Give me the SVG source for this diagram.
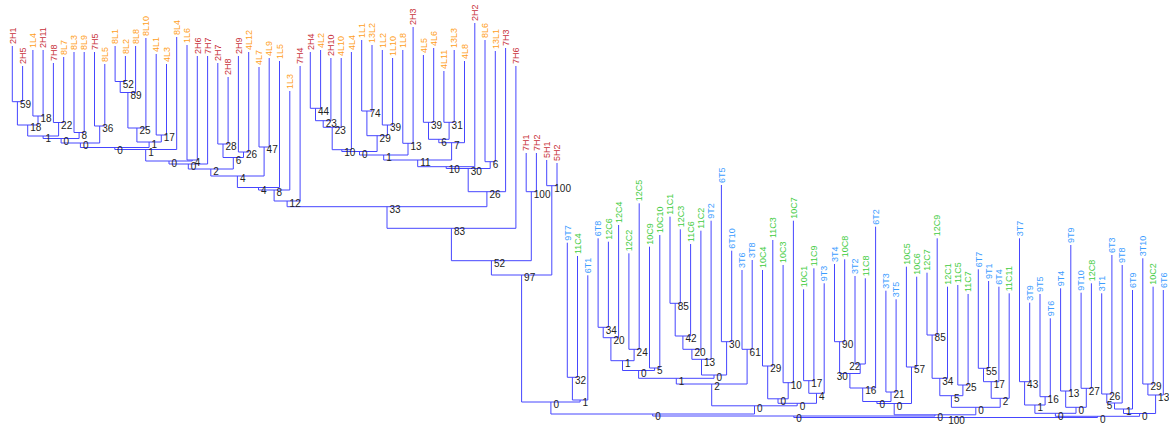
<svg xmlns="http://www.w3.org/2000/svg" width="1169" height="424" viewBox="0 0 1169 424">
<style>
.e{fill:none;stroke:#4646ff;stroke-width:1}
.lf{font-family:"Liberation Sans",Arial,sans-serif;font-size:9px}
.h{fill:#c8313a}.l{fill:#ffa01c}.t{fill:#3b9cff}.c{fill:#3fcc3f}
.bs{font-family:"Liberation Sans",Arial,sans-serif;font-size:10px;fill:#222}
</style>
<rect width="1169" height="424" fill="#fff"/>
<g id="connectors">
<path class="e" d="M12.3 46V101.7H22.6V66"/>
<path class="e" d="M32.9 50V116H43.1V50"/>
<path class="e" d="M17.4 101.7V125H38V116"/>
<path class="e" d="M53.4 63V122.5H63.7V57"/>
<path class="e" d="M27.7 125V136H58.6V122.5"/>
<path class="e" d="M74 52V132.5H84.2V52"/>
<path class="e" d="M94.5 52V126H104.8V64"/>
<path class="e" d="M43.1 136V138.5H79.1V132.5"/>
<path class="e" d="M61.1 138.5V143H99.7V126"/>
<path class="e" d="M115.1 46V81.5H125.4V56"/>
<path class="e" d="M120.2 81.5V92.5H135.6V46"/>
<path class="e" d="M127.9 92.5V128H145.9V38"/>
<path class="e" d="M156.2 54V135H166.5V64"/>
<path class="e" d="M136.9 128V142H161.3V135"/>
<path class="e" d="M80.4 143V147.5H149.1V142"/>
<path class="e" d="M114.8 147.5V149.5H176.7V37"/>
<path class="e" d="M187 45V160H197.3V56"/>
<path class="e" d="M145.7 149.5V161H192.2V160"/>
<path class="e" d="M169 161V164H207.6V56"/>
<path class="e" d="M217.8 63V144H228.1V77"/>
<path class="e" d="M238.4 56V152H248.7V52"/>
<path class="e" d="M223 144V157.5H243.5V152"/>
<path class="e" d="M188.3 164V169H233.3V157.5"/>
<path class="e" d="M259 67V147H269.2V58"/>
<path class="e" d="M210.8 169V176H264.1V147"/>
<path class="e" d="M237.4 176V187.5H279.5V61"/>
<path class="e" d="M258.5 187.5V190H289.8V91"/>
<path class="e" d="M274.1 190V201H300.1V66"/>
<path class="e" d="M310.3 52V108.3H320.6V50"/>
<path class="e" d="M315.5 108.3V120.7H330.9V58"/>
<path class="e" d="M323.2 120.7V127.3H341.2V58"/>
<path class="e" d="M332.2 127.3V149.7H351.4V52"/>
<path class="e" d="M361.7 40V111H372V45"/>
<path class="e" d="M382.3 50V125H392.6V58"/>
<path class="e" d="M366.9 111V135.7H387.4V125"/>
<path class="e" d="M341.8 149.7V151.5H377.1V135.7"/>
<path class="e" d="M402.8 50V143.3H413.1V27"/>
<path class="e" d="M359.5 151.5V155H408V143.3"/>
<path class="e" d="M423.4 55V122.3H433.7V48"/>
<path class="e" d="M443.9 71V122.3H454.2V50"/>
<path class="e" d="M428.5 122.3V139.3H449.1V122.3"/>
<path class="e" d="M438.8 139.3V142.7H464.5V61"/>
<path class="e" d="M383.7 155V160H451.6V142.7"/>
<path class="e" d="M417.7 160V166.7H474.8V23"/>
<path class="e" d="M485 40V161.7H495.3V51"/>
<path class="e" d="M446.2 166.7V168.5H490.2V161.7"/>
<path class="e" d="M468.2 168.5V191.7H505.6V48"/>
<path class="e" d="M287.1 201V206.7H486.9V191.7"/>
<path class="e" d="M387 206.7V228.3H515.9V66"/>
<path class="e" d="M526.2 153V191.7H536.4V153"/>
<path class="e" d="M546.7 160V185.7H557V163"/>
<path class="e" d="M451.4 228.3V260.7H531.3V191.7"/>
<path class="e" d="M491.4 260.7V275H551.8V185.7"/>
<path class="e" d="M567.3 242.7V377.3H577.5V256"/>
<path class="e" d="M572.4 377.3V400H587.8V275.3"/>
<path class="e" d="M521.6 275V402H580.1V400"/>
<path class="e" d="M598.1 238.3V327.3H608.4V241.7"/>
<path class="e" d="M603.2 327.3V337.7H618.6V225"/>
<path class="e" d="M628.9 253.3V349.3H639.2V203.3"/>
<path class="e" d="M610.9 337.7V360.7H634.1V349.3"/>
<path class="e" d="M649.5 246.7V368H659.8V235"/>
<path class="e" d="M622.5 360.7V370.5H654.6V368"/>
<path class="e" d="M670 216.7V303.3H680.3V229.3"/>
<path class="e" d="M675.2 303.3V336H690.6V244"/>
<path class="e" d="M682.9 336V349.3H700.9V230.7"/>
<path class="e" d="M691.9 349.3V359.3H711.1V220.7"/>
<path class="e" d="M721.4 185V341.7H731.7V250.7"/>
<path class="e" d="M701.5 359.3V375H726.6V341.7"/>
<path class="e" d="M638.6 370.5V378.3H714V375"/>
<path class="e" d="M742 270V349.3H752.2V260"/>
<path class="e" d="M676.3 378.3V384H747.1V349.3"/>
<path class="e" d="M762.5 270V366H772.8V240"/>
<path class="e" d="M783.1 265V382.7H793.4V220.7"/>
<path class="e" d="M767.7 366V398.8H788.2V382.7"/>
<path class="e" d="M803.6 289.3V380.7H813.9V268.3"/>
<path class="e" d="M808.8 380.7V393.3H824.2V283.3"/>
<path class="e" d="M778 398.8V403.3H816.5V393.3"/>
<path class="e" d="M711.7 384V405.8H797.2V403.3"/>
<path class="e" d="M550.9 402V414H754.5V405.8"/>
<path class="e" d="M834.5 264V341.7H844.7V259.3"/>
<path class="e" d="M855 276V364H865.3V278.3"/>
<path class="e" d="M839.6 341.7V373.5H860.2V364"/>
<path class="e" d="M849.9 373.5V388H875.6V226.7"/>
<path class="e" d="M885.9 290.7V392H896.1V299.3"/>
<path class="e" d="M862.7 388V401.5H891V392"/>
<path class="e" d="M906.4 266.7V367H916.7V276.7"/>
<path class="e" d="M876.9 401.5V403.5H911.5V367"/>
<path class="e" d="M927 272.7V335H937.2V238.3"/>
<path class="e" d="M932.1 335V378.3H947.5V286.7"/>
<path class="e" d="M957.8 285V385H968.1V294"/>
<path class="e" d="M939.8 378.3V395.7H962.9V385"/>
<path class="e" d="M978.3 269.3V368.3H988.6V281"/>
<path class="e" d="M983.5 368.3V381.7H998.9V286.7"/>
<path class="e" d="M991.2 381.7V398.3H1009.2V293.3"/>
<path class="e" d="M951.4 395.7V407.3H1000.2V398.3"/>
<path class="e" d="M894.2 403.5V414.8H975.8V407.3"/>
<path class="e" d="M652.7 414V416H935V414.8"/>
<path class="e" d="M1019.5 238.3V381.7H1029.7V302.7"/>
<path class="e" d="M1040 294V396.7H1050.3V318.3"/>
<path class="e" d="M1024.6 381.7V405H1045.1V396.7"/>
<path class="e" d="M1060.6 288.3V391H1070.8V245"/>
<path class="e" d="M1081.1 292.7V388.3H1091.4V283.3"/>
<path class="e" d="M1065.7 391V407.3H1086.3V388.3"/>
<path class="e" d="M1034.9 405V413.3H1076V407.3"/>
<path class="e" d="M1101.7 293.3V394H1111.9V255"/>
<path class="e" d="M1106.8 394V403H1122.2V265"/>
<path class="e" d="M1114.5 403V409H1132.5V290"/>
<path class="e" d="M1142.8 258.3V384H1153.1V286.7"/>
<path class="e" d="M1147.9 384V395H1163.3V290"/>
<path class="e" d="M1123.5 409V413.5H1155.6V395"/>
<path class="e" d="M1055.4 413.3V416.3H1139.6V413.5"/>
<path class="e" d="M793.8 416V417.5H1097.5V416.3"/>
</g>
<g id="leaves">
<g id="leaf-2H1"><text class="lf h" transform="translate(15.5,44) rotate(-90)">2H1</text></g>
<g id="leaf-2H5"><text class="lf h" transform="translate(25.8,64) rotate(-90)">2H5</text></g>
<g id="leaf-1L4"><text class="lf l" transform="translate(36.1,48) rotate(-90)">1L4</text></g>
<g id="leaf-2H11"><text class="lf h" transform="translate(46.3,48) rotate(-90)">2H11</text></g>
<g id="leaf-7H8"><text class="lf h" transform="translate(56.6,61) rotate(-90)">7H8</text></g>
<g id="leaf-8L7"><text class="lf l" transform="translate(66.9,55) rotate(-90)">8L7</text></g>
<g id="leaf-8L3"><text class="lf l" transform="translate(77.2,50) rotate(-90)">8L3</text></g>
<g id="leaf-8L9"><text class="lf l" transform="translate(87.4,50) rotate(-90)">8L9</text></g>
<g id="leaf-7H5"><text class="lf h" transform="translate(97.7,50) rotate(-90)">7H5</text></g>
<g id="leaf-8L5"><text class="lf l" transform="translate(108,62) rotate(-90)">8L5</text></g>
<g id="leaf-8L1"><text class="lf l" transform="translate(118.3,44) rotate(-90)">8L1</text></g>
<g id="leaf-8L2"><text class="lf l" transform="translate(128.6,54) rotate(-90)">8L2</text></g>
<g id="leaf-8L8"><text class="lf l" transform="translate(138.8,44) rotate(-90)">8L8</text></g>
<g id="leaf-8L10"><text class="lf l" transform="translate(149.1,36) rotate(-90)">8L10</text></g>
<g id="leaf-4L1"><text class="lf l" transform="translate(159.4,52) rotate(-90)">4L1</text></g>
<g id="leaf-4L3"><text class="lf l" transform="translate(169.7,62) rotate(-90)">4L3</text></g>
<g id="leaf-8L4"><text class="lf l" transform="translate(179.9,35) rotate(-90)">8L4</text></g>
<g id="leaf-1L6"><text class="lf l" transform="translate(190.2,43) rotate(-90)">1L6</text></g>
<g id="leaf-2H6"><text class="lf h" transform="translate(200.5,54) rotate(-90)">2H6</text></g>
<g id="leaf-7H7"><text class="lf h" transform="translate(210.8,54) rotate(-90)">7H7</text></g>
<g id="leaf-2H7"><text class="lf h" transform="translate(221,61) rotate(-90)">2H7</text></g>
<g id="leaf-2H8"><text class="lf h" transform="translate(231.3,75) rotate(-90)">2H8</text></g>
<g id="leaf-2H9"><text class="lf h" transform="translate(241.6,54) rotate(-90)">2H9</text></g>
<g id="leaf-4L12"><text class="lf l" transform="translate(251.9,50) rotate(-90)">4L12</text></g>
<g id="leaf-4L7"><text class="lf l" transform="translate(262.2,65) rotate(-90)">4L7</text></g>
<g id="leaf-4L9"><text class="lf l" transform="translate(272.4,56) rotate(-90)">4L9</text></g>
<g id="leaf-1L5"><text class="lf l" transform="translate(282.7,59) rotate(-90)">1L5</text></g>
<g id="leaf-1L3"><text class="lf l" transform="translate(293,89) rotate(-90)">1L3</text></g>
<g id="leaf-7H4"><text class="lf h" transform="translate(303.3,64) rotate(-90)">7H4</text></g>
<g id="leaf-2H4"><text class="lf h" transform="translate(313.5,50) rotate(-90)">2H4</text></g>
<g id="leaf-4L2"><text class="lf l" transform="translate(323.8,48) rotate(-90)">4L2</text></g>
<g id="leaf-2H10"><text class="lf h" transform="translate(334.1,56) rotate(-90)">2H10</text></g>
<g id="leaf-4L10"><text class="lf l" transform="translate(344.4,56) rotate(-90)">4L10</text></g>
<g id="leaf-4L4"><text class="lf l" transform="translate(354.6,50) rotate(-90)">4L4</text></g>
<g id="leaf-1L1"><text class="lf l" transform="translate(364.9,38) rotate(-90)">1L1</text></g>
<g id="leaf-13L2"><text class="lf l" transform="translate(375.2,43) rotate(-90)">13L2</text></g>
<g id="leaf-1L2"><text class="lf l" transform="translate(385.5,48) rotate(-90)">1L2</text></g>
<g id="leaf-1L10"><text class="lf l" transform="translate(395.8,56) rotate(-90)">1L10</text></g>
<g id="leaf-1L8"><text class="lf l" transform="translate(406,48) rotate(-90)">1L8</text></g>
<g id="leaf-2H3"><text class="lf h" transform="translate(416.3,25) rotate(-90)">2H3</text></g>
<g id="leaf-4L5"><text class="lf l" transform="translate(426.6,53) rotate(-90)">4L5</text></g>
<g id="leaf-4L6"><text class="lf l" transform="translate(436.9,46) rotate(-90)">4L6</text></g>
<g id="leaf-4L11"><text class="lf l" transform="translate(447.1,69) rotate(-90)">4L11</text></g>
<g id="leaf-13L3"><text class="lf l" transform="translate(457.4,48) rotate(-90)">13L3</text></g>
<g id="leaf-4L8"><text class="lf l" transform="translate(467.7,59) rotate(-90)">4L8</text></g>
<g id="leaf-2H2"><text class="lf h" transform="translate(478,21) rotate(-90)">2H2</text></g>
<g id="leaf-8L6"><text class="lf l" transform="translate(488.2,38) rotate(-90)">8L6</text></g>
<g id="leaf-13L1"><text class="lf l" transform="translate(498.5,49) rotate(-90)">13L1</text></g>
<g id="leaf-7H3"><text class="lf h" transform="translate(508.8,46) rotate(-90)">7H3</text></g>
<g id="leaf-7H6"><text class="lf h" transform="translate(519.1,64) rotate(-90)">7H6</text></g>
<g id="leaf-7H1"><text class="lf h" transform="translate(529.4,151) rotate(-90)">7H1</text></g>
<g id="leaf-7H2"><text class="lf h" transform="translate(539.6,151) rotate(-90)">7H2</text></g>
<g id="leaf-5H1"><text class="lf h" transform="translate(549.9,158) rotate(-90)">5H1</text></g>
<g id="leaf-5H2"><text class="lf h" transform="translate(560.2,161) rotate(-90)">5H2</text></g>
<g id="leaf-9T7"><text class="lf t" transform="translate(570.5,240.7) rotate(-90)">9T7</text></g>
<g id="leaf-11C4"><text class="lf c" transform="translate(580.7,254) rotate(-90)">11C4</text></g>
<g id="leaf-6T1"><text class="lf t" transform="translate(591,273.3) rotate(-90)">6T1</text></g>
<g id="leaf-6T8"><text class="lf t" transform="translate(601.3,236.3) rotate(-90)">6T8</text></g>
<g id="leaf-12C6"><text class="lf c" transform="translate(611.6,239.7) rotate(-90)">12C6</text></g>
<g id="leaf-12C4"><text class="lf c" transform="translate(621.8,223) rotate(-90)">12C4</text></g>
<g id="leaf-12C2"><text class="lf c" transform="translate(632.1,251.3) rotate(-90)">12C2</text></g>
<g id="leaf-12C5"><text class="lf c" transform="translate(642.4,201.3) rotate(-90)">12C5</text></g>
<g id="leaf-10C9"><text class="lf c" transform="translate(652.7,244.7) rotate(-90)">10C9</text></g>
<g id="leaf-10C10"><text class="lf c" transform="translate(663,233) rotate(-90)">10C10</text></g>
<g id="leaf-11C1"><text class="lf c" transform="translate(673.2,214.7) rotate(-90)">11C1</text></g>
<g id="leaf-12C3"><text class="lf c" transform="translate(683.5,227.3) rotate(-90)">12C3</text></g>
<g id="leaf-11C6"><text class="lf c" transform="translate(693.8,242) rotate(-90)">11C6</text></g>
<g id="leaf-11C2"><text class="lf c" transform="translate(704.1,228.7) rotate(-90)">11C2</text></g>
<g id="leaf-9T2"><text class="lf t" transform="translate(714.3,218.7) rotate(-90)">9T2</text></g>
<g id="leaf-6T5"><text class="lf t" transform="translate(724.6,183) rotate(-90)">6T5</text></g>
<g id="leaf-6T10"><text class="lf t" transform="translate(734.9,248.7) rotate(-90)">6T10</text></g>
<g id="leaf-3T6"><text class="lf t" transform="translate(745.2,268) rotate(-90)">3T6</text></g>
<g id="leaf-3T8"><text class="lf t" transform="translate(755.4,258) rotate(-90)">3T8</text></g>
<g id="leaf-10C4"><text class="lf c" transform="translate(765.7,268) rotate(-90)">10C4</text></g>
<g id="leaf-11C3"><text class="lf c" transform="translate(776,238) rotate(-90)">11C3</text></g>
<g id="leaf-10C3"><text class="lf c" transform="translate(786.3,263) rotate(-90)">10C3</text></g>
<g id="leaf-10C7"><text class="lf c" transform="translate(796.6,218.7) rotate(-90)">10C7</text></g>
<g id="leaf-10C1"><text class="lf c" transform="translate(806.8,287.3) rotate(-90)">10C1</text></g>
<g id="leaf-11C9"><text class="lf c" transform="translate(817.1,266.3) rotate(-90)">11C9</text></g>
<g id="leaf-9T3"><text class="lf t" transform="translate(827.4,281.3) rotate(-90)">9T3</text></g>
<g id="leaf-3T4"><text class="lf t" transform="translate(837.7,262) rotate(-90)">3T4</text></g>
<g id="leaf-10C8"><text class="lf c" transform="translate(847.9,257.3) rotate(-90)">10C8</text></g>
<g id="leaf-3T2"><text class="lf t" transform="translate(858.2,274) rotate(-90)">3T2</text></g>
<g id="leaf-11C8"><text class="lf c" transform="translate(868.5,276.3) rotate(-90)">11C8</text></g>
<g id="leaf-6T2"><text class="lf t" transform="translate(878.8,224.7) rotate(-90)">6T2</text></g>
<g id="leaf-3T3"><text class="lf t" transform="translate(889.1,288.7) rotate(-90)">3T3</text></g>
<g id="leaf-3T5"><text class="lf t" transform="translate(899.3,297.3) rotate(-90)">3T5</text></g>
<g id="leaf-10C5"><text class="lf c" transform="translate(909.6,264.7) rotate(-90)">10C5</text></g>
<g id="leaf-10C6"><text class="lf c" transform="translate(919.9,274.7) rotate(-90)">10C6</text></g>
<g id="leaf-12C7"><text class="lf c" transform="translate(930.2,270.7) rotate(-90)">12C7</text></g>
<g id="leaf-12C9"><text class="lf c" transform="translate(940.4,236.3) rotate(-90)">12C9</text></g>
<g id="leaf-12C1"><text class="lf c" transform="translate(950.7,284.7) rotate(-90)">12C1</text></g>
<g id="leaf-11C5"><text class="lf c" transform="translate(961,283) rotate(-90)">11C5</text></g>
<g id="leaf-11C7"><text class="lf c" transform="translate(971.3,292) rotate(-90)">11C7</text></g>
<g id="leaf-6T7"><text class="lf t" transform="translate(981.5,267.3) rotate(-90)">6T7</text></g>
<g id="leaf-9T1"><text class="lf t" transform="translate(991.8,279) rotate(-90)">9T1</text></g>
<g id="leaf-6T4"><text class="lf t" transform="translate(1002.1,284.7) rotate(-90)">6T4</text></g>
<g id="leaf-11C11"><text class="lf c" transform="translate(1012.4,291.3) rotate(-90)">11C11</text></g>
<g id="leaf-3T7"><text class="lf t" transform="translate(1022.7,236.3) rotate(-90)">3T7</text></g>
<g id="leaf-3T9"><text class="lf t" transform="translate(1032.9,300.7) rotate(-90)">3T9</text></g>
<g id="leaf-9T5"><text class="lf t" transform="translate(1043.2,292) rotate(-90)">9T5</text></g>
<g id="leaf-9T6"><text class="lf t" transform="translate(1053.5,316.3) rotate(-90)">9T6</text></g>
<g id="leaf-9T4"><text class="lf t" transform="translate(1063.8,286.3) rotate(-90)">9T4</text></g>
<g id="leaf-9T9"><text class="lf t" transform="translate(1074,243) rotate(-90)">9T9</text></g>
<g id="leaf-9T10"><text class="lf t" transform="translate(1084.3,290.7) rotate(-90)">9T10</text></g>
<g id="leaf-12C8"><text class="lf c" transform="translate(1094.6,281.3) rotate(-90)">12C8</text></g>
<g id="leaf-3T1"><text class="lf t" transform="translate(1104.9,291.3) rotate(-90)">3T1</text></g>
<g id="leaf-6T3"><text class="lf t" transform="translate(1115.1,253) rotate(-90)">6T3</text></g>
<g id="leaf-9T8"><text class="lf t" transform="translate(1125.4,263) rotate(-90)">9T8</text></g>
<g id="leaf-6T9"><text class="lf t" transform="translate(1135.7,288) rotate(-90)">6T9</text></g>
<g id="leaf-3T10"><text class="lf t" transform="translate(1146,256.3) rotate(-90)">3T10</text></g>
<g id="leaf-10C2"><text class="lf c" transform="translate(1156.3,284.7) rotate(-90)">10C2</text></g>
<g id="leaf-6T6"><text class="lf t" transform="translate(1166.5,288) rotate(-90)">6T6</text></g>
</g>
<g id="nodes" class="bs">
<g id="n-a59"><text x="19.9" y="108">59</text></g>
<g id="n-a18"><text x="40.5" y="122.3">18</text></g>
<g id="n-a18b"><text x="30.2" y="131.3">18</text></g>
<g id="n-a22"><text x="61.1" y="128.8">22</text></g>
<g id="n-a1"><text x="45.6" y="142.3">1</text></g>
<g id="n-a8"><text x="81.6" y="138.8">8</text></g>
<g id="n-a36"><text x="102.2" y="132.3">36</text></g>
<g id="n-a0"><text x="63.6" y="144.8">0</text></g>
<g id="n-a0b"><text x="82.9" y="149.3">0</text></g>
<g id="n-a52"><text x="122.7" y="87.8">52</text></g>
<g id="n-a89"><text x="130.4" y="98.8">89</text></g>
<g id="n-a25"><text x="139.4" y="134.3">25</text></g>
<g id="n-a17"><text x="163.8" y="141.3">17</text></g>
<g id="n-a1b"><text x="151.6" y="148.3">1</text></g>
<g id="n-a0c"><text x="117.3" y="153.8">0</text></g>
<g id="n-a1c"><text x="148.2" y="155.8">1</text></g>
<g id="n-a4"><text x="194.7" y="166.3">4</text></g>
<g id="n-a0d"><text x="171.5" y="167.3">0</text></g>
<g id="n-a0e"><text x="190.8" y="170.3">0</text></g>
<g id="n-a28"><text x="225.5" y="150.3">28</text></g>
<g id="n-a26"><text x="246" y="158.3">26</text></g>
<g id="n-a6"><text x="235.8" y="163.8">6</text></g>
<g id="n-a2"><text x="213.3" y="175.3">2</text></g>
<g id="n-a47"><text x="266.6" y="153.3">47</text></g>
<g id="n-a4b"><text x="239.9" y="182.3">4</text></g>
<g id="n-a4c"><text x="261" y="193.8">4</text></g>
<g id="n-a8b"><text x="276.6" y="196.3">8</text></g>
<g id="n-a12"><text x="289.6" y="207.3">12</text></g>
<g id="n-a44"><text x="318" y="114.6">44</text></g>
<g id="n-a23"><text x="325.7" y="127">23</text></g>
<g id="n-a23b"><text x="334.7" y="133.6">23</text></g>
<g id="n-a10"><text x="344.3" y="156">10</text></g>
<g id="n-a74"><text x="369.4" y="117.3">74</text></g>
<g id="n-a39"><text x="389.9" y="131.3">39</text></g>
<g id="n-a29"><text x="379.6" y="142">29</text></g>
<g id="n-a0f"><text x="362" y="157.8">0</text></g>
<g id="n-a13"><text x="410.5" y="149.6">13</text></g>
<g id="n-a1d"><text x="386.2" y="161.3">1</text></g>
<g id="n-a39b"><text x="431" y="128.6">39</text></g>
<g id="n-a31"><text x="451.6" y="128.6">31</text></g>
<g id="n-a6b"><text x="441.3" y="145.6">6</text></g>
<g id="n-a7"><text x="454.1" y="149">7</text></g>
<g id="n-a11"><text x="420.2" y="166.3">11</text></g>
<g id="n-a10b"><text x="448.7" y="173">10</text></g>
<g id="n-a6c"><text x="492.7" y="168">6</text></g>
<g id="n-a30"><text x="470.7" y="174.8">30</text></g>
<g id="n-a26b"><text x="489.4" y="198">26</text></g>
<g id="n-a33"><text x="389.5" y="213">33</text></g>
<g id="n-a83"><text x="453.9" y="234.6">83</text></g>
<g id="n-a100"><text x="533.8" y="198">100</text></g>
<g id="n-a100b"><text x="554.3" y="192">100</text></g>
<g id="n-a52b"><text x="493.9" y="267">52</text></g>
<g id="n-a97"><text x="524.1" y="281.3">97</text></g>
<g id="n-b32"><text x="574.9" y="383.6">32</text></g>
<g id="n-b1"><text x="582.6" y="406.3">1</text></g>
<g id="n-b0"><text x="553.4" y="408.3">0</text></g>
<g id="n-b34"><text x="605.7" y="333.6">34</text></g>
<g id="n-b20"><text x="613.4" y="344">20</text></g>
<g id="n-b24"><text x="636.6" y="355.6">24</text></g>
<g id="n-b1b"><text x="625" y="367">1</text></g>
<g id="n-b5"><text x="657.1" y="374.3">5</text></g>
<g id="n-b0b"><text x="641.1" y="376.8">0</text></g>
<g id="n-b85"><text x="677.7" y="309.6">85</text></g>
<g id="n-b42"><text x="685.4" y="342.3">42</text></g>
<g id="n-b20b"><text x="694.4" y="355.6">20</text></g>
<g id="n-b13"><text x="704" y="365.6">13</text></g>
<g id="n-b30"><text x="729.1" y="348">30</text></g>
<g id="n-b0c"><text x="716.5" y="381.3">0</text></g>
<g id="n-b1c"><text x="678.8" y="384.6">1</text></g>
<g id="n-b61"><text x="749.6" y="355.6">61</text></g>
<g id="n-b2"><text x="714.2" y="390.3">2</text></g>
<g id="n-b29"><text x="770.2" y="372.3">29</text></g>
<g id="n-b10"><text x="790.7" y="389">10</text></g>
<g id="n-b0d"><text x="780.5" y="405.1">0</text></g>
<g id="n-b17"><text x="811.3" y="387">17</text></g>
<g id="n-b4"><text x="819" y="399.6">4</text></g>
<g id="n-b0e"><text x="799.7" y="409.6">0</text></g>
<g id="n-b0f"><text x="757" y="412.1">0</text></g>
<g id="n-b0g"><text x="655.2" y="420.3">0</text></g>
<g id="n-b90"><text x="842.1" y="348">90</text></g>
<g id="n-b22"><text x="849.3" y="370.3">22</text></g>
<g id="n-b30b"><text x="836.7" y="379.6">30</text></g>
<g id="n-b16"><text x="865.2" y="394.3">16</text></g>
<g id="n-b21"><text x="893.5" y="398.3">21</text></g>
<g id="n-b0h"><text x="879.4" y="407.8">0</text></g>
<g id="n-b57"><text x="914" y="373.3">57</text></g>
<g id="n-b0i"><text x="896.7" y="409.8">0</text></g>
<g id="n-b85b"><text x="934.6" y="341.3">85</text></g>
<g id="n-b34b"><text x="942.3" y="384.6">34</text></g>
<g id="n-b25"><text x="965.4" y="391.3">25</text></g>
<g id="n-b5b"><text x="953.9" y="402">5</text></g>
<g id="n-b55"><text x="986" y="374.6">55</text></g>
<g id="n-b17b"><text x="993.7" y="388">17</text></g>
<g id="n-b2b"><text x="1002.7" y="404.6">2</text></g>
<g id="n-b0j"><text x="978.3" y="413.6">0</text></g>
<g id="n-b0k"><text x="937.5" y="421.1">0</text></g>
<g id="n-b0l"><text x="796.3" y="422.3">0</text></g>
<g id="n-b43"><text x="1027.1" y="388">43</text></g>
<g id="n-b16b"><text x="1047.6" y="403">16</text></g>
<g id="n-b1d"><text x="1037.4" y="411.3">1</text></g>
<g id="n-b13b"><text x="1068.2" y="397.3">13</text></g>
<g id="n-b27"><text x="1088.8" y="394.6">27</text></g>
<g id="n-b0m"><text x="1078.5" y="413.6">0</text></g>
<g id="n-b0n"><text x="1057.9" y="419.6">0</text></g>
<g id="n-b26"><text x="1109.3" y="400.3">26</text></g>
<g id="n-b5c"><text x="1106.7" y="409.2">5</text></g>
<g id="n-b1e"><text x="1126" y="415.3">1</text></g>
<g id="n-b29b"><text x="1150.4" y="390.3">29</text></g>
<g id="n-b13c"><text x="1158.1" y="401.3">13</text></g>
<g id="n-b0o"><text x="1142.1" y="419.8">0</text></g>
<g id="n-b0p"><text x="1100" y="422.6">0</text></g>
<g id="n-root"><text x="948.2" y="423.8">100</text></g>
</g>
</svg>
